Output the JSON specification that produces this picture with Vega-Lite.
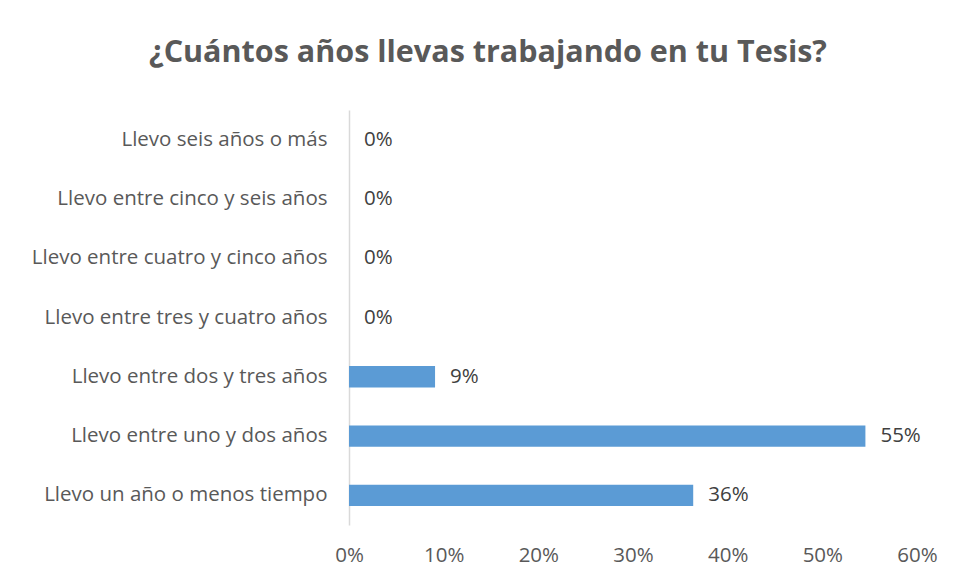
{
  "$schema": "https://vega.github.io/schema/vega-lite/v6.json",
  "width": 568,
  "height": 415,
  "autosize": {"type": "none"},
  "padding": {"left": 349, "top": 110, "right": 41, "bottom": 55},
  "background": "white",
  "config": {"view": {"stroke": null}, "font": "Open Sans"},
  "title": {
    "text": "¿Cuántos años llevas trabajando en tu Tesis?",
    "fontSize": 30.5,
    "fontWeight": "bold",
    "color": "#595959",
    "font": "Open Sans",
    "anchor": "middle",
    "dx": -145,
    "offset": 42
  },
  "data": {
    "values": [
      {"cat": "Llevo seis años o más", "pct": 0},
      {"cat": "Llevo entre cinco y seis años", "pct": 0},
      {"cat": "Llevo entre cuatro y cinco años", "pct": 0},
      {"cat": "Llevo entre tres y cuatro años", "pct": 0},
      {"cat": "Llevo entre dos y tres años", "pct": 0.0909},
      {"cat": "Llevo entre uno y dos años", "pct": 0.5455},
      {"cat": "Llevo un año o menos tiempo", "pct": 0.3636}
    ]
  },
  "encoding": {
    "y": {
      "field": "cat",
      "type": "nominal",
      "sort": null,
      "title": null,
      "scale": {"paddingInner": 0.64, "paddingOuter": 0.32},
      "axis": {
        "ticks": false,
        "domainColor": "#d9d9d9",
        "domainWidth": 1.5,
        "labelColor": "#595959",
        "labelFontSize": 20.5,
        "labelPadding": 22,
        "labelLimit": 400
      }
    },
    "x": {
      "field": "pct",
      "type": "quantitative",
      "title": null,
      "scale": {"domain": [0, 0.6], "nice": false},
      "axis": {
        "format": ".0%",
        "values": [0, 0.1, 0.2, 0.3, 0.4, 0.5, 0.6],
        "grid": false,
        "ticks": false,
        "domain": false,
        "labelFlush": false,
        "labelColor": "#595959",
        "labelFontSize": 20.5,
        "labelPadding": 20
      }
    }
  },
  "layer": [
    {"mark": {"type": "bar", "color": "#5B9BD5"}},
    {
      "mark": {"type": "text", "align": "left", "dx": 15, "fontSize": 20.5, "color": "#404040"},
      "encoding": {"text": {"field": "pct", "type": "quantitative", "format": ".0%"}}
    }
  ]
}
